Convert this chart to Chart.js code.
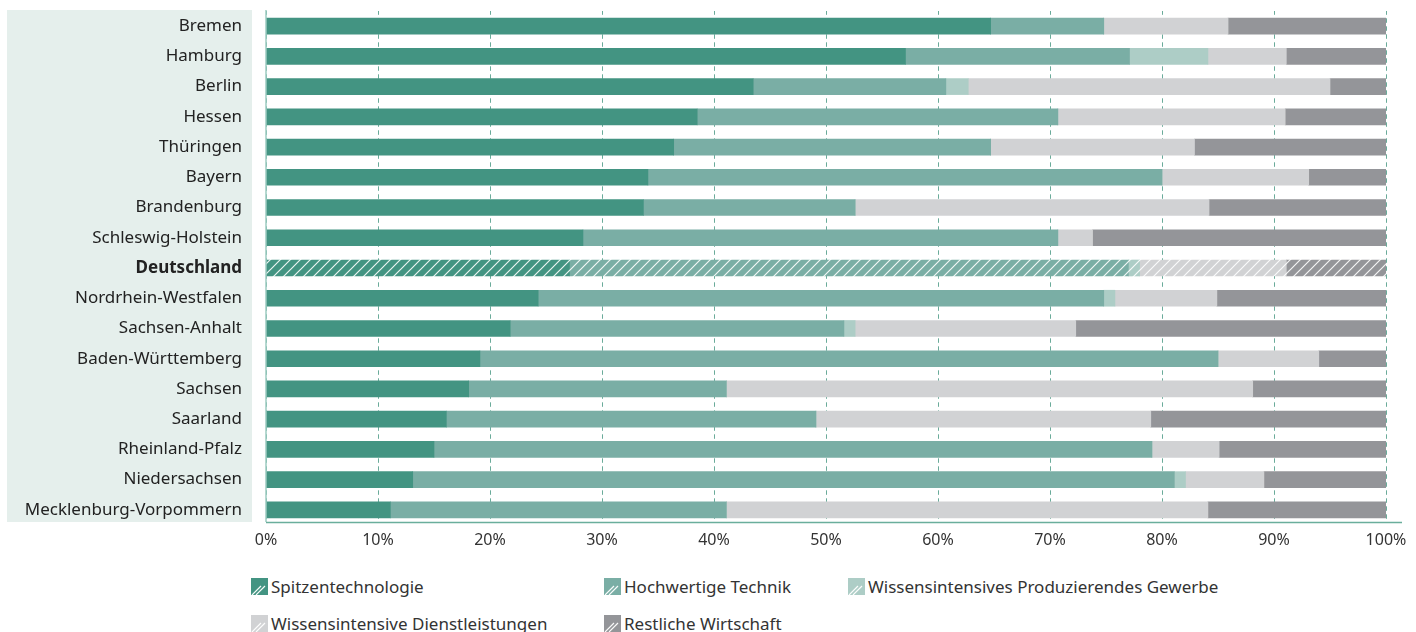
<!DOCTYPE html>
<html><head><meta charset="utf-8">
<script src="https://cdn.jsdelivr.net/npm/chart.js@4/dist/chart.umd.min.js"></script>
<style>
html,body{margin:0;padding:0;background:#fff;}
#wrap{position:relative;width:1416px;height:632px;overflow:hidden;font-family:"Noto Sans",sans-serif;}
#c{position:absolute;left:0;top:0;}
.leg{position:absolute;display:flex;align-items:center;font-size:17px;color:#333;white-space:nowrap;height:20px;}
.leg canvas{margin-right:3px;display:block;}
</style></head>
<body><div id="wrap"><canvas id="c" width="1416" height="560"></canvas><div id="legend"></div></div>
<script>
// ---- data ----
const categories = ['Bremen','Hamburg','Berlin','Hessen','Thüringen','Bayern','Brandenburg','Schleswig-Holstein','Deutschland','Nordrhein-Westfalen','Sachsen-Anhalt','Baden-Württemberg','Sachsen','Saarland','Rheinland-Pfalz','Niedersachsen','Mecklenburg-Vorpommern'];
const seriesNames = ['Spitzentechnologie','Hochwertige Technik','Wissensintensives Produzierendes Gewerbe','Wissensintensive Dienstleistungen','Restliche Wirtschaft'];
const spitzentechnologie      = [64.7, 57.1, 43.5, 38.5, 36.4, 34.1, 33.7, 28.3, 27.1, 24.3, 21.8, 19.1, 18.1, 16.1, 15.0, 13.1, 11.1];
const hochwertigeTechnik      = [10.1, 20.0, 17.2, 32.2, 28.3, 45.9, 18.9, 42.4, 49.9, 50.5, 29.8, 65.9, 23.0, 33.0, 64.1, 68.0, 30.0];
const wissensProduzierend     = [0.0,  7.0,  2.0,  0.0,  0.0,  0.0,  0.0,  0.0,  1.0,  1.0,  1.0,  0.0,  0.0,  0.0,  0.0,  1.0,  0.0];
const wissensDienstleistungen = [11.1, 7.0, 32.3, 20.3, 18.2, 13.1, 31.6,  3.1, 13.1,  9.1, 19.7,  9.0, 47.0, 29.9,  6.0,  7.0, 43.0];
const restlicheWirtschaft     = [14.1, 8.9,  5.0,  9.0, 17.1,  6.9, 15.8, 26.2,  8.9, 15.1, 27.7,  6.0, 11.9, 21.0, 14.9, 10.9, 15.9];
const tickLabels = ['0%','10%','20%','30%','40%','50%','60%','70%','80%','90%','100%'];
const highlight = 'Deutschland';

// ---- styles ----
const colors = ['#439482','#7aaea5','#adcdc6','#d1d2d4','#949599'];
const seriesData = [spitzentechnologie, hochwertigeTechnik, wissensProduzierend, wissensDienstleistungen, restlicheWirtschaft];

function hatch(color){
  const s = 10, cv = document.createElement('canvas');
  cv.width = s; cv.height = s;
  const g = cv.getContext('2d');
  g.fillStyle = color; g.fillRect(0,0,s,s);
  g.strokeStyle = 'rgba(255,255,255,0.9)'; g.lineWidth = 1.2;
  g.beginPath();
  g.moveTo(0,s); g.lineTo(s,0);
  g.moveTo(-1,1); g.lineTo(1,-1);
  g.moveTo(s-1,s+1); g.lineTo(s+1,s-1);
  g.stroke();
  return g.createPattern(cv,'repeat');
}

const hi = categories.indexOf(highlight);
const datasets = seriesNames.map((name,i)=>{
  const pat = hatch(colors[i]);
  return {
    label: name,
    data: seriesData[i],
    backgroundColor: categories.map((c,j)=> j===hi ? pat : colors[i]),
    borderWidth: 0,
    barThickness: 16
  };
});

const decor = {
  id:'decor',
  beforeDraw(chart){
    const {ctx, chartArea:a} = chart;
    ctx.save();
    ctx.fillStyle = '#e5efec';
    ctx.fillRect(7, a.top-1, 245, (a.bottom-3)-(a.top-1));
    ctx.restore();
  },
  beforeDatasetsDraw(chart){
    const {ctx, chartArea:a, scales:{x}} = chart;
    ctx.save();
    ctx.strokeStyle = '#6aab9a'; ctx.lineWidth = 1;
    ctx.setLineDash([4.5,3.5]); ctx.lineDashOffset = 0.7;
    x.ticks.forEach(t=>{
      const px = Math.round(x.getPixelForValue(t.value))+0.5;
      ctx.beginPath(); ctx.moveTo(px, a.top); ctx.lineTo(px, a.bottom-3); ctx.stroke();
    });
    ctx.restore();
  },
  afterDatasetsDraw(chart){
    const {ctx, chartArea:a, scales:{x}} = chart;
    const x0 = x.getPixelForValue(0);
    ctx.save();
    ctx.strokeStyle = '#9ccbc0'; ctx.lineWidth = 1.5;
    ctx.beginPath(); ctx.moveTo(x0, a.top-1); ctx.lineTo(x0, a.bottom-3); ctx.stroke();
    ctx.strokeStyle = '#6aae9c'; ctx.lineWidth = 1.5;
    ctx.beginPath(); ctx.moveTo(x0, a.bottom-2.5); ctx.lineTo(x.getPixelForValue(100)+16, a.bottom-2.5); ctx.stroke();
    ctx.restore();
  }
};

Chart.defaults.font.family = '"Noto Sans", sans-serif';
new Chart(document.getElementById('c'), {
  type:'bar',
  data:{ labels: categories, datasets },
  plugins:[decor],
  options:{
    indexAxis:'y',
    responsive:false,
    devicePixelRatio:1,
    animation:false,
    layout:{ padding:{ top:11, left:0, right:30, bottom:0 } },
    plugins:{ legend:{display:false}, tooltip:{enabled:false} },
    scales:{
      x:{
        stacked:true, min:0, max:100,
        ticks:{ stepSize:10, padding:6, color:'#333', font:{size:16},
          callback:(v,i)=> tickLabels[i] },
        grid:{ display:false, drawTicks:false },
        border:{ display:false },
        afterFit:(s)=>{ s.height = 35; }
      },
      y:{
        stacked:true,
        ticks:{ padding:24, color:'#222',
          font:(ctx)=> ({size:17, weight: ctx.index===hi ? 'bold' : 'normal'}) },
        grid:{ display:false, drawTicks:false },
        border:{ display:false },
        afterFit:(s)=>{ s.width = 266; s.paddingTop = 0; s.paddingBottom = 0; }
      }
    }
  }
});

// ---- legend (HTML) ----
const legendPos = [[251,576],[604,576],[848,576],[251,613],[604,613]];
const legend = document.getElementById('legend');
seriesNames.forEach((name,i)=>{
  const d = document.createElement('div');
  d.className = 'leg';
  d.style.left = legendPos[i][0]+'px';
  d.style.top = legendPos[i][1]+'px';
  const ic = document.createElement('canvas');
  ic.width = 17; ic.height = 17;
  const g = ic.getContext('2d');
  g.fillStyle = colors[i]; g.fillRect(0,0,17,17);
  g.strokeStyle = 'rgba(255,255,255,0.95)'; g.lineWidth = 1.2;
  g.beginPath(); g.moveTo(1,17); g.lineTo(10,8); g.moveTo(5,17); g.lineTo(14,8); g.stroke();
  d.appendChild(ic);
  const sp = document.createElement('span'); sp.textContent = name;
  d.appendChild(sp);
  legend.appendChild(d);
});
</script>
</body></html>
